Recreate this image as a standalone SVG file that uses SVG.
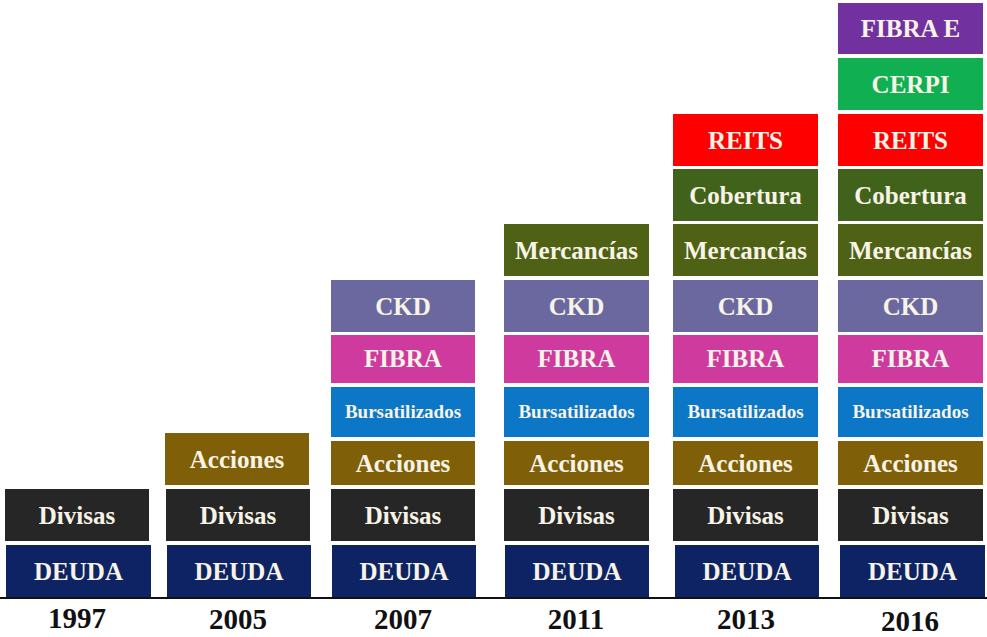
<svg xmlns="http://www.w3.org/2000/svg" width="987" height="637" viewBox="0 0 987 637">
<style>
text{font-family:"Liberation Serif","Times New Roman",serif;font-weight:bold;text-anchor:middle;fill:#f7f3e6}
.l{font-size:25px}
.s{font-size:19px}
.yr{font-size:29px;fill:#111}
.deuda{fill:#0d2363}
.div{fill:#262626}
.acc{fill:#7f5f07}
.bur{fill:#0c77c7}
.fib{fill:#cf3a9e}
.ckd{fill:#6a689f}
.mer{fill:#4f6115}
.cob{fill:#41621a}
.rei{fill:#fe0000}
.cer{fill:#10b052}
.fie{fill:#7132a0}
</style>
<rect width="987" height="637" fill="#fff"/>
<g id="axis"><line x1="0" y1="598" x2="987" y2="598" stroke="#111" stroke-width="2"/></g>

<g id="col1997">
<g id="n1997-deuda"><rect class="deuda" x="6" y="545" width="145" height="52"/><text class="l" x="78.5" y="580">DEUDA</text></g>
<g id="n1997-divisas"><rect class="div" x="5" y="489" width="144" height="52"/><text class="l" x="77" y="524">Divisas</text></g>
<text class="yr" x="77" y="628">1997</text>
</g>

<g id="col2005">
<g id="n2005-deuda"><rect class="deuda" x="167" y="545" width="144" height="52"/><text class="l" x="239" y="580">DEUDA</text></g>
<g id="n2005-divisas"><rect class="div" x="166" y="489" width="144" height="52"/><text class="l" x="238" y="524">Divisas</text></g>
<g id="n2005-acciones"><rect class="acc" x="165" y="433" width="144" height="52"/><text class="l" x="237" y="468">Acciones</text></g>
<text class="yr" x="238" y="629">2005</text>
</g>

<g id="col2007">
<g id="n2007-deuda"><rect class="deuda" x="332" y="545" width="144" height="52"/><text class="l" x="404" y="580">DEUDA</text></g>
<g id="n2007-divisas"><rect class="div" x="331" y="489" width="144" height="52"/><text class="l" x="403" y="524">Divisas</text></g>
<g id="n2007-acciones"><rect class="acc" x="331" y="441" width="144" height="44"/><text class="l" x="403" y="472">Acciones</text></g>
<g id="n2007-burs"><rect class="bur" x="331" y="387" width="144" height="50"/><text class="s" x="403" y="418">Bursatilizados</text></g>
<g id="n2007-fibra"><rect class="fib" x="331" y="335" width="144" height="48"/><text class="l" x="403" y="367">FIBRA</text></g>
<g id="n2007-ckd"><rect class="ckd" x="331" y="280" width="144" height="52"/><text class="l" x="403" y="315">CKD</text></g>
<text class="yr" x="403" y="629">2007</text>
</g>

<g id="col2011">
<g id="n2011-deuda"><rect class="deuda" x="505" y="545" width="144" height="52"/><text class="l" x="577" y="580">DEUDA</text></g>
<g id="n2011-divisas"><rect class="div" x="504" y="489" width="145" height="52"/><text class="l" x="576.5" y="524">Divisas</text></g>
<g id="n2011-acciones"><rect class="acc" x="504" y="441" width="145" height="44"/><text class="l" x="576.5" y="472">Acciones</text></g>
<g id="n2011-burs"><rect class="bur" x="504" y="387" width="145" height="50"/><text class="s" x="576.5" y="418">Bursatilizados</text></g>
<g id="n2011-fibra"><rect class="fib" x="504" y="335" width="145" height="48"/><text class="l" x="576.5" y="367">FIBRA</text></g>
<g id="n2011-ckd"><rect class="ckd" x="504" y="280" width="145" height="52"/><text class="l" x="576.5" y="315">CKD</text></g>
<g id="n2011-merc"><rect class="mer" x="504" y="224" width="145" height="52"/><text class="l" x="576.5" y="259">Mercancías</text></g>
<text class="yr" x="576" y="629">2011</text>
</g>

<g id="col2013">
<g id="n2013-deuda"><rect class="deuda" x="675" y="545" width="144" height="52"/><text class="l" x="747" y="580">DEUDA</text></g>
<g id="n2013-divisas"><rect class="div" x="673" y="489" width="145" height="52"/><text class="l" x="745.5" y="524">Divisas</text></g>
<g id="n2013-acciones"><rect class="acc" x="673" y="441" width="145" height="44"/><text class="l" x="745.5" y="472">Acciones</text></g>
<g id="n2013-burs"><rect class="bur" x="673" y="387" width="145" height="50"/><text class="s" x="745.5" y="418">Bursatilizados</text></g>
<g id="n2013-fibra"><rect class="fib" x="673" y="335" width="145" height="48"/><text class="l" x="745.5" y="367">FIBRA</text></g>
<g id="n2013-ckd"><rect class="ckd" x="673" y="280" width="145" height="52"/><text class="l" x="745.5" y="315">CKD</text></g>
<g id="n2013-merc"><rect class="mer" x="673" y="224" width="145" height="52"/><text class="l" x="745.5" y="259">Mercancías</text></g>
<g id="n2013-cob"><rect class="cob" x="673" y="169" width="145" height="52"/><text class="l" x="745.5" y="204">Cobertura</text></g>
<g id="n2013-reits"><rect class="rei" x="673" y="114" width="145" height="52"/><text class="l" x="745.5" y="149">REITS</text></g>
<text class="yr" x="746" y="629">2013</text>
</g>

<g id="col2016">
<g id="n2016-deuda"><rect class="deuda" x="840" y="545" width="145" height="52"/><text class="l" x="912.5" y="580">DEUDA</text></g>
<g id="n2016-divisas"><rect class="div" x="838" y="489" width="145" height="52"/><text class="l" x="910.5" y="524">Divisas</text></g>
<g id="n2016-acciones"><rect class="acc" x="838" y="441" width="145" height="44"/><text class="l" x="910.5" y="472">Acciones</text></g>
<g id="n2016-burs"><rect class="bur" x="838" y="387" width="145" height="50"/><text class="s" x="910.5" y="418">Bursatilizados</text></g>
<g id="n2016-fibra"><rect class="fib" x="838" y="335" width="145" height="48"/><text class="l" x="910.5" y="367">FIBRA</text></g>
<g id="n2016-ckd"><rect class="ckd" x="838" y="280" width="145" height="52"/><text class="l" x="910.5" y="315">CKD</text></g>
<g id="n2016-merc"><rect class="mer" x="838" y="224" width="145" height="52"/><text class="l" x="910.5" y="259">Mercancías</text></g>
<g id="n2016-cob"><rect class="cob" x="838" y="169" width="145" height="52"/><text class="l" x="910.5" y="204">Cobertura</text></g>
<g id="n2016-reits"><rect class="rei" x="838" y="114" width="145" height="52"/><text class="l" x="910.5" y="149">REITS</text></g>
<g id="n2016-cerpi"><rect class="cer" x="838" y="58" width="145" height="52"/><text class="l" x="910.5" y="93">CERPI</text></g>
<g id="n2016-fibrae"><rect class="fie" x="838" y="3" width="145" height="51"/><text class="l" x="910.5" y="37">FIBRA E</text></g>
<text class="yr" x="910" y="631">2016</text>
</g>
</svg>
